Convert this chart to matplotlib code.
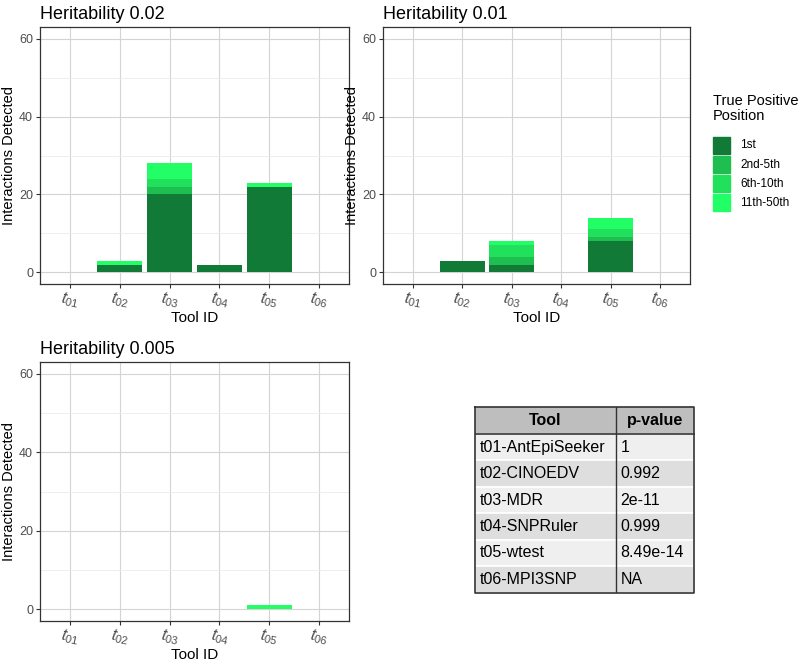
import numpy as np
import matplotlib
matplotlib.use("Agg")
import matplotlib.pyplot as plt
from matplotlib.patches import Rectangle

plt.rcParams['font.family'] = ['Liberation Sans', 'DejaVu Sans']
plt.rcParams['mathtext.fontset'] = 'custom'
plt.rcParams['mathtext.it'] = 'Liberation Sans:italic'
plt.rcParams['mathtext.rm'] = 'Liberation Sans'

tools = ["t01", "t02", "t03", "t04", "t05", "t06"]
positions = ["1st", "2nd-5th", "6th-10th", "11th-50th"]
colors = ["#117a37", "#1fbe50", "#21e15c", "#22ff66"]

titles = ["Heritability 0.02", "Heritability 0.01", "Heritability 0.005"]
# counts[panel][position][tool]
counts = [
    [[0, 2, 20, 2, 22, 0],
     [0, 0, 2, 0, 0, 0],
     [0, 0, 2, 0, 0, 0],
     [0, 1, 4, 0, 1, 0]],
    [[0, 3, 2, 0, 8, 0],
     [0, 0, 2, 0, 1, 0],
     [0, 0, 3, 0, 2, 0],
     [0, 0, 1, 0, 3, 0]],
    [[0, 0, 0, 0, 0, 0],
     [0, 0, 0, 0, 0, 0],
     [0, 0, 0, 0, 0, 0],
     [0, 0, 0, 0, 1, 0]],
]

table_tools = ["t01-AntEpiSeeker", "t02-CINOEDV", "t03-MDR",
               "t04-SNPRuler", "t05-wtest", "t06-MPI3SNP"]
table_pvals = ["1", "0.992", "2e-11", "0.999", "8.49e-14", "NA"]

W, H = 800, 661
fig = plt.figure(figsize=(8, 6.61), dpi=100)


def px_axes(x0, y0, x1, y1):
    return fig.add_axes([x0 / W, 1 - y1 / H, (x1 - x0) / W, (y1 - y0) / H])


boxes = [(40, 27, 349, 284), (383, 27, 690, 284), (40, 362, 349, 621)]
x = np.arange(1, len(tools) + 1)

for ax_box, title, data in zip(boxes, titles, counts):
    ax = px_axes(*ax_box)
    bottom = np.zeros(len(tools))
    for vals, col in zip(data, colors):
        vals = np.array(vals, dtype=float)
        ax.bar(x, vals, width=0.9, bottom=bottom, color=col, zorder=3,
               linewidth=0)
        bottom += vals
    ax.set_xlim(0.4, 6.6)
    ax.set_ylim(-3, 63)
    ax.set_yticks([0, 20, 40, 60])
    ax.set_yticks([10, 30, 50], minor=True)
    ax.set_xticks(x)
    ax.set_xticklabels([r'$\mathit{t_{%s}}$' % t[1:] for t in tools],
                       rotation=-12, fontsize=11.5, color='#4d4d4d')
    ax.tick_params(axis='y', labelsize=9, labelcolor='#4d4d4d',
                   length=3, color='#333333', pad=2)
    ax.tick_params(axis='x', length=3, color='#333333', pad=1)
    ax.tick_params(axis='y', which='minor', length=0)
    ax.grid(which='major', color='#d4d4d4', linewidth=0.8, zorder=0)
    ax.grid(which='minor', axis='y', color='#ebebeb', linewidth=0.6, zorder=0)
    ax.set_axisbelow(True)
    for s in ax.spines.values():
        s.set_color('#333333')
        s.set_linewidth(0.9)
    ax.set_xlabel("Tool ID", fontsize=11, labelpad=0)
    ax.set_ylabel("Interactions Detected", fontsize=10.5, labelpad=2)
    ax.set_title(title, loc='left', fontsize=13, pad=6)

# legend
fig.text(713 / W, 1 - 94 / H, "True Positive\nPosition", fontsize=10.5,
         va='top', ha='left', linespacing=1.1)
for i, (lab, col) in enumerate(zip(positions, colors)):
    y0 = 137 + i * 19
    fig.patches.append(Rectangle((713 / W, 1 - (y0 + 17) / H), 17 / W, 17 / H,
                                 transform=fig.transFigure, color=col))
    fig.text(740 / W, 1 - (y0 + 8.5) / H, lab, fontsize=8.5, va='center',
             ha='left')

# table
tax = px_axes(475, 407, 695, 593)
tax.set_xlim(475, 695)
tax.set_ylim(593, 407)
tax.axis('off')
col_x = [475, 615.5, 694]
header_h = 27
row_h = (592.5 - 407 - header_h) / len(table_tools)
tax.add_patch(Rectangle((475, 407), 219, header_h, facecolor='#bebebe',
                        edgecolor='none'))
tax.text((col_x[0] + col_x[1]) / 2, 407 + header_h / 2, "Tool",
         fontsize=11.5, fontweight='bold', ha='center', va='center')
tax.text((col_x[1] + col_x[2]) / 2, 407 + header_h / 2, "p-value",
         fontsize=11.5, fontweight='bold', ha='center', va='center')
for i, (tname, pv) in enumerate(zip(table_tools, table_pvals)):
    y0 = 407 + header_h + i * row_h
    fc = '#efefef' if i % 2 == 0 else '#dedede'
    tax.add_patch(Rectangle((475, y0), 219, row_h, facecolor=fc,
                            edgecolor='white', linewidth=1.2))
    tax.text(col_x[0] + 5, y0 + row_h / 2, tname, fontsize=11.5,
             ha='left', va='center')
    tax.text(col_x[1] + 5, y0 + row_h / 2, pv, fontsize=11.5,
             ha='left', va='center')
tax.plot([475, 694, 694, 475, 475], [407, 407, 592.5, 592.5, 407],
         color='#333333', linewidth=1.2, clip_on=False)
tax.plot([475, 694], [407 + header_h] * 2, color='#333333', linewidth=1.2)
tax.plot([615.5, 615.5], [407, 592.5], color='#333333', linewidth=1.0)

fig.savefig("out.png", dpi=100)
